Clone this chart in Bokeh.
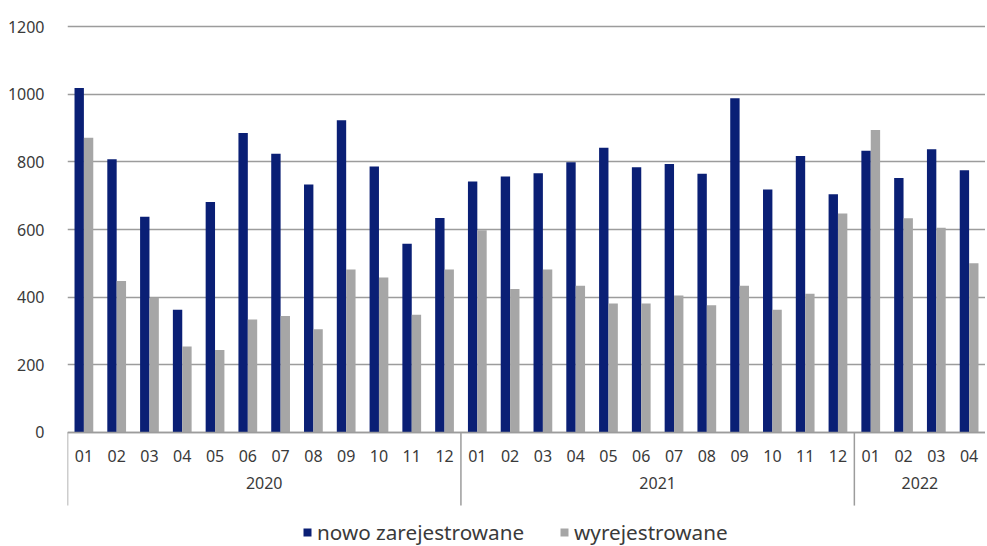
from bokeh.plotting import figure
from bokeh.models import (FactorRange, Range1d, ColumnDataSource, Legend, LegendItem,
                          FixedTicker)
from bokeh.transform import dodge
from bokeh.embed import file_html
from bokeh.resources import INLINE

years = ["2020"] * 12 + ["2021"] * 12 + ["2022"] * 4
months = ["01", "02", "03", "04", "05", "06", "07", "08", "09", "10", "11", "12"] * 2 + ["01", "02", "03", "04"]
nowo = [1018, 808, 638, 363, 681, 885, 824, 733, 923, 786, 558, 634,
        742, 757, 766, 799, 842, 784, 794, 765, 988, 718, 817, 704,
        833, 752, 837, 775]
wyrej = [871, 448, 398, 254, 244, 334, 344, 305, 482, 458, 348, 482,
         598, 424, 482, 434, 381, 381, 405, 376, 434, 363, 410, 647,
         894, 633, 605, 500]
series_names = ["nowo zarejestrowane", "wyrejestrowane"]
y_ticks = [0, 200, 400, 600, 800, 1000, 1200]

BLUE = "#0a1f75"
GREY = "#a6a6a6"
LINE = "#9c9c9c"
TXT = "#3a3a3a"
FONT = "Noto Sans"

factors = list(zip(years, months))
src = ColumnDataSource(dict(x=factors, nowo=nowo, wyrej=wyrej))
# year boundaries: first month of every year
year_starts = [f for f in factors if f[1] == "01"]
sep_src = ColumnDataSource(dict(x=year_starts))

xr = FactorRange(*factors, range_padding=0, group_padding=0, subgroup_padding=0, factor_padding=0)
# the frame reaches below zero so that the category axis (fixed at 0), the year
# separators and the legend all sit inside it
p = figure(x_range=xr, y_range=Range1d(-337, 1206), output_backend="svg", toolbar_location=None,
           frame_width=918, frame_height=522, min_border_left=67, min_border_right=0,
           min_border_top=24, min_border_bottom=0, outline_line_color=None,
           background_fill_color="white", border_fill_color="white")

r1 = p.vbar(x=dodge("x", -0.143, range=p.x_range), top="nowo", width=0.286, source=src,
            fill_color=BLUE, line_color=None)
r2 = p.vbar(x=dodge("x", 0.143, range=p.x_range), top="wyrej", width=0.286, source=src,
            fill_color=GREY, line_color=None)

p.segment(x0=dodge("x", -0.5, range=p.x_range), y0=0,
          x1=dodge("x", -0.5, range=p.x_range), y1=-216,
          source=sep_src, line_color=LINE, line_width=1.5)

p.xgrid.grid_line_color = None
p.ygrid.ticker = FixedTicker(ticks=y_ticks)
p.ygrid.grid_line_color = LINE
p.ygrid.grid_line_width = 1.5

p.yaxis.ticker = FixedTicker(ticks=y_ticks)
p.yaxis.axis_line_color = None
p.yaxis.major_tick_line_color = None
p.yaxis.minor_tick_line_color = None
p.yaxis.major_label_standoff = 17
p.yaxis.major_label_text_font = FONT
p.yaxis.major_label_text_font_size = "16px"
p.yaxis.major_label_text_color = TXT

p.xaxis.fixed_location = 0
p.xaxis.axis_line_color = LINE
p.xaxis.axis_line_width = 1.5
p.xaxis.major_tick_line_color = None
p.xaxis.minor_tick_line_color = None
p.xaxis.major_label_text_font = FONT
p.xaxis.major_label_text_font_size = "16px"
p.xaxis.major_label_text_color = TXT
p.xaxis.major_label_standoff = 12
p.xaxis.group_text_font = FONT
p.xaxis.group_text_font_size = "16px"
p.xaxis.group_text_font_style = "normal"
p.xaxis.group_text_color = TXT
p.xaxis.group_label_orientation = "horizontal"
p.xaxis.separator_line_color = None

legend = Legend(items=[LegendItem(label=series_names[0], renderers=[r1]),
                       LegendItem(label=series_names[1], renderers=[r2])],
                orientation="horizontal", location=(235, 0),
                label_text_font=FONT, label_text_font_size="20.7px", label_text_color=TXT,
                glyph_width=10, glyph_height=10, label_height=24, label_standoff=5, spacing=35,
                border_line_color=None, background_fill_alpha=0,
                padding=0, margin=0)
p.add_layout(legend, "center")

open("out.html", "w").write(file_html(p, INLINE))
